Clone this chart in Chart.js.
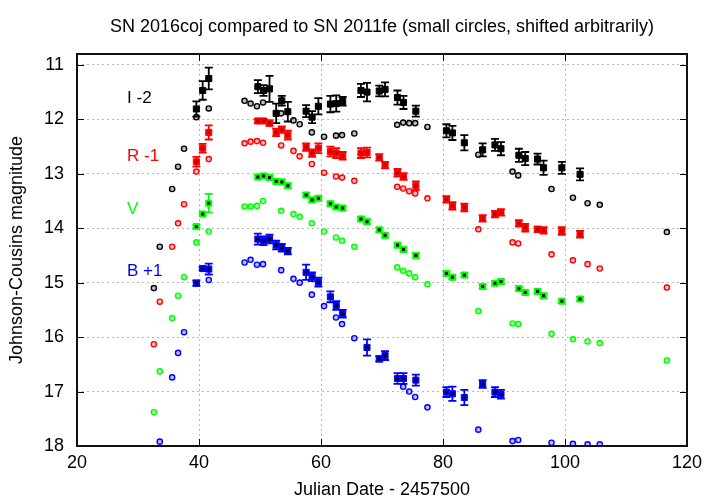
<!DOCTYPE html>
<html>
<head>
<meta charset="utf-8">
<script src="https://cdn.jsdelivr.net/npm/chart.js@4.4.0/dist/chart.umd.min.js"></script>
<style>
html,body{margin:0;padding:0;background:#fff;}
#c{display:block;}
</style>
</head>
<body>
<canvas id="c" width="720" height="504"></canvas>
<script>
// SN 2011fe (small circles, shifted)
const feDays = [32.6, 33.57, 35.6, 36.57, 37.55, 39.57, 41.6, 47.47, 48.45, 49.5, 50.5, 53.47, 55.49, 56.5, 58.5, 60.5, 62.46, 63.45, 65.46, 72.49, 73.47, 74.46, 75.44, 77.45, 85.79, 91.4, 92.33, 97.79, 101.3, 103.7, 105.7, 116.7];
const feI = [15.10, 14.34, 13.28, 12.87, 12.54, 11.96, 11.80, 11.66, 11.71, 11.76, 11.69, 11.89, 12.02, 12.09, 12.24, 12.32, 12.30, 12.29, 12.26, 12.10, 12.06, 12.07, 12.07, 12.14, 12.65, 12.96, 13.03, 13.28, 13.44, 13.54, 13.57, 14.07];
const feR = [16.13, 15.35, 14.34, 13.91, 13.56, 12.96, 12.73, 12.44, 12.41, 12.40, 12.43, 12.48, 12.58, 12.68, 12.82, 12.98, 13.05, 13.07, 13.13, 13.24, 13.27, 13.32, 13.36, 13.45, 14.02, 14.26, 14.28, 14.48, 14.59, 14.66, 14.74, 15.09];
const feV = [17.38, 16.63, 15.65, 15.24, 14.90, 14.26, 14.06, 13.60, 13.60, 13.59, 13.50, 13.68, 13.74, 13.79, 13.91, 14.06, 14.17, 14.23, 14.34, 14.72, 14.78, 14.83, 14.90, 15.03, 15.52, 15.75, 15.76, 15.94, 16.04, 16.08, 16.11, 16.43];
const feB = [null, 17.92, 16.74, 16.29, 15.91, null, 14.95, 14.63, 14.58, 14.67, 14.66, 14.77, 14.93, 15.00, 15.22, 15.43, 15.64, 15.76, 16.02, null, 16.91, 17.00, 17.10, 17.29, 17.70, 17.91, 17.89, 17.94, 17.96, 17.97, 17.97, null];

// SN 2016coj with errors
const cojDays = [39.57, 40.6, 41.6, 49.65, 50.58, 51.56, 52.65, 53.57, 54.56, 57.56, 58.54, 59.57, 61.54, 62.5, 63.55, 66.55, 67.54, 69.55, 70.5, 72.54, 73.52, 75.55, 80.56, 81.54, 83.5, 86.5, 88.52, 89.5, 92.44, 93.48, 95.5, 96.48, 99.48, 102.47];
const cojI = [11.81, 11.47, 11.25, 11.40, 11.47, 11.44, 11.89, 11.66, 11.86, 11.85, 11.96, 11.76, 11.72, 11.71, 11.67, 11.47, 11.50, 11.48, 11.45, 11.60, 11.69, 11.85, 12.21, 12.25, 12.43, 12.56, 12.47, 12.54, 12.66, 12.72, 12.73, 12.89, 12.89, 13.01];
const cojIErr = [0.14, 0.17, 0.20, 0.12, 0.10, 0.24, 0.18, 0.09, 0.18, 0.11, 0.11, 0.15, 0.15, 0.15, 0.08, 0.12, 0.17, 0.10, 0.13, 0.13, 0.12, 0.10, 0.12, 0.13, 0.14, 0.12, 0.11, 0.12, 0.12, 0.12, 0.10, 0.13, 0.11, 0.11];
const cojR = [12.78, 12.53, 12.24, 12.03, 12.03, 12.07, 12.24, 12.19, 12.29, 12.51, 12.62, 12.53, 12.59, 12.62, 12.67, 12.62, 12.61, 12.70, 12.84, 12.98, 13.05, 13.22, 13.47, 13.59, 13.62, 13.82, 13.74, 13.71, 13.91, 13.99, 14.02, 14.04, 14.05, 14.11];
const cojRErr = [0.09, 0.08, 0.13, 0.04, 0.04, 0.05, 0.07, 0.06, 0.08, 0.07, 0.07, 0.09, 0.09, 0.09, 0.07, 0.09, 0.09, 0.06, 0.06, 0.07, 0.06, 0.08, 0.06, 0.07, 0.07, 0.06, 0.06, 0.06, 0.06, 0.07, 0.05, 0.06, 0.07, 0.06];
const cojV = [13.97, 13.74, 13.54, 13.06, 13.04, 13.07, 13.14, 13.15, 13.22, 13.39, 13.48, 13.45, 13.55, 13.61, 13.63, 13.83, 13.88, 14.03, 14.13, 14.31, 14.39, 14.50, 14.83, 14.90, 14.86, 15.07, 15.01, 14.98, 15.11, 15.18, 15.16, 15.24, 15.34, 15.30];
const cojVErr = [0.03, 0.03, 0.17, 0.04, 0.04, 0.04, 0.04, 0.04, 0.04, 0.04, 0.04, 0.04, 0.04, 0.04, 0.04, 0.04, 0.04, 0.04, 0.04, 0.04, 0.04, 0.04, 0.04, 0.04, 0.04, 0.04, 0.04, 0.04, 0.04, 0.04, 0.04, 0.04, 0.03, 0.04];
const cojB = [15.01, 14.74, 14.75, 14.20, 14.23, 14.20, 14.31, 14.36, 14.42, 14.81, 14.89, 14.99, 15.26, 15.42, 15.57, null, 16.19, 16.40, 16.34, 16.76, 16.76, 16.79, 17.01, 17.04, 17.11, 16.86, 17.01, 17.05, null, null, null, null, null, null];
const cojBErr = [0.05, 0.03, 0.10, 0.10, 0.08, 0.08, 0.08, 0.07, 0.06, 0.14, 0.08, 0.08, 0.10, 0.08, 0.07, null, 0.15, 0.05, 0.08, 0.10, 0.10, 0.10, 0.09, 0.13, 0.14, 0.07, 0.09, 0.08, null, null, null, null, null, null];

const bandNames = ['I -2', 'R -1', 'V', 'B +1'];
const bandColors = ['#000000', '#ff0000', '#00ff00', '#0000ff'];
const bandFills = ['rgba(0,0,0,0.25)', 'rgba(255,0,0,0.25)', 'rgba(0,255,0,0.35)', 'rgba(0,0,255,0.25)'];
const dotColors = ['#000000', '#b00000', '#000000', '#000000'];
const xTicks = [20, 40, 60, 80, 100, 120];
const yTicks = [11, 12, 13, 14, 15, 16, 17, 18];

const FONT = "'Liberation Sans', Arial, Helvetica, sans-serif";

function pts(days, mags, errs) {
  const out = [];
  days.forEach((d, i) => {
    if (mags[i] == null) return;
    out.push({x: d, y: mags[i], e: errs ? errs[i] : 0});
  });
  return out;
}

const feSets = [feI, feR, feV, feB];
const cojSets = [cojI, cojR, cojV, cojB];
const cojErrs = [cojIErr, cojRErr, cojVErr, cojBErr];

const datasets = [];
for (let i = 0; i < 4; i++) {
  datasets.push({
    label: bandNames[i] + ' 2016coj',
    data: pts(cojDays, cojSets[i], cojErrs[i]),
    pointStyle: 'rect',
    pointRadius: 4.3,
    borderWidth: 1,
    borderColor: bandColors[i],
    backgroundColor: bandColors[i],
    errBars: true,
    dotColor: dotColors[i]
  });
  datasets.push({
    label: bandNames[i] + ' 2011fe',
    data: pts(feDays, feSets[i]),
    pointStyle: 'circle',
    pointRadius: 2.6,
    borderWidth: 1.4,
    borderColor: bandColors[i],
    backgroundColor: bandFills[i]
  });
}

const errorBars = {
  id: 'errorBars',
  beforeDatasetsDraw(chart) {
    const ctx = chart.ctx, xs = chart.scales.x, ys = chart.scales.y;
    ctx.save();
    chart.data.datasets.forEach(ds => {
      if (!ds.errBars) return;
      ctx.strokeStyle = ds.borderColor;
      ctx.lineWidth = 1.8;
      ds.data.forEach(p => {
        const px = xs.getPixelForValue(p.x);
        const y1 = ys.getPixelForValue(p.y - p.e);
        const y2 = ys.getPixelForValue(p.y + p.e);
        ctx.beginPath();
        ctx.moveTo(px, y1); ctx.lineTo(px, y2);
        ctx.moveTo(px - 4, y1); ctx.lineTo(px + 4, y1);
        ctx.moveTo(px - 4, y2); ctx.lineTo(px + 4, y2);
        ctx.stroke();
      });
    });
    ctx.restore();
  },
  afterDatasetsDraw(chart) {
    const ctx = chart.ctx, xs = chart.scales.x, ys = chart.scales.y;
    ctx.save();
    chart.data.datasets.forEach(ds => {
      if (!ds.errBars) return;
      ctx.fillStyle = ds.dotColor;
      ds.data.forEach(p => {
        const px = xs.getPixelForValue(p.x);
        const py = ys.getPixelForValue(p.y);
        ctx.fillRect(px - 1.5, py - 1.5, 3, 3);
      });
    });
    ctx.restore();
  }
};

const frame = {
  id: 'frame',
  afterDraw(chart) {
    const ctx = chart.ctx, a = chart.chartArea, xs = chart.scales.x, ys = chart.scales.y;
    ctx.save();
    ctx.strokeStyle = '#000';
    ctx.lineWidth = 1;
    ctx.beginPath();
    xTicks.forEach(t => {
      const px = Math.round(xs.getPixelForValue(t)) + 0.5;
      ctx.moveTo(px, a.bottom); ctx.lineTo(px, a.bottom - 7);
      ctx.moveTo(px, a.top); ctx.lineTo(px, a.top + 7);
    });
    yTicks.forEach(t => {
      const py = Math.round(ys.getPixelForValue(t)) + 0.5;
      ctx.moveTo(a.left, py); ctx.lineTo(a.left + 7, py);
      ctx.moveTo(a.right, py); ctx.lineTo(a.right - 7, py);
    });
    ctx.stroke();
    ctx.lineWidth = 2;
    ctx.strokeStyle = '#111';
    ctx.strokeRect(a.left, a.top, a.right - a.left, a.bottom - a.top);
    // band labels
    ctx.font = '17px ' + FONT;
    ctx.textAlign = 'left';
    ctx.textBaseline = 'middle';
    const labelMags = [11.62, 12.68, 13.66, 14.79];
    bandNames.forEach((n, i) => {
      ctx.fillStyle = bandColors[i];
      ctx.fillText(n, xs.getPixelForValue(28.2), ys.getPixelForValue(labelMags[i]));
    });
    ctx.restore();
  }
};

new Chart(document.getElementById('c'), {
  type: 'scatter',
  data: {datasets},
  options: {
    responsive: false,
    animation: false,
    layout: {padding: {top: 0, right: 33, bottom: 0, left: 0}},
    plugins: {
      legend: {display: false},
      tooltip: {enabled: false},
      title: {
        display: true,
        fullSize: false,
        text: 'SN 2016coj compared to SN 2011fe (small circles, shifted arbitrarily)',
        color: '#000',
        font: {family: FONT, size: 18, weight: 'normal'},
        padding: {top: 16, bottom: 16.4}
      }
    },
    scales: {
      x: {
        type: 'linear',
        min: 20, max: 120,
        afterFit: s => { s.height = 58; },
        afterBuildTicks: s => { s.ticks = xTicks.map(v => ({value: v})); },
        ticks: {color: '#000', font: {family: FONT, size: 18}, padding: 6, maxRotation: 0},
        grid: {color: '#b8b8b8', lineWidth: 1, drawTicks: false},
        border: {display: false, dash: [2, 3]},
        title: {display: true, text: 'Julian Date - 2457500', color: '#000',
                font: {family: FONT, size: 18}, padding: {top: 0, bottom: 3}}
      },
      y: {
        type: 'linear',
        reverse: true,
        min: 10.8, max: 18,
        afterFit: s => { s.width = 77; },
        afterBuildTicks: s => { s.ticks = yTicks.map(v => ({value: v})); },
        ticks: {color: '#000', font: {family: FONT, size: 18}, padding: 13},
        grid: {color: '#b8b8b8', lineWidth: 1, drawTicks: false},
        border: {display: false, dash: [2, 3]},
        title: {display: true, text: 'Johnson-Cousins magnitude', color: '#000',
                font: {family: FONT, size: 18}, padding: {top: 6, bottom: 0}}
      }
    }
  },
  plugins: [errorBars, frame]
});
</script>
</body>
</html>
